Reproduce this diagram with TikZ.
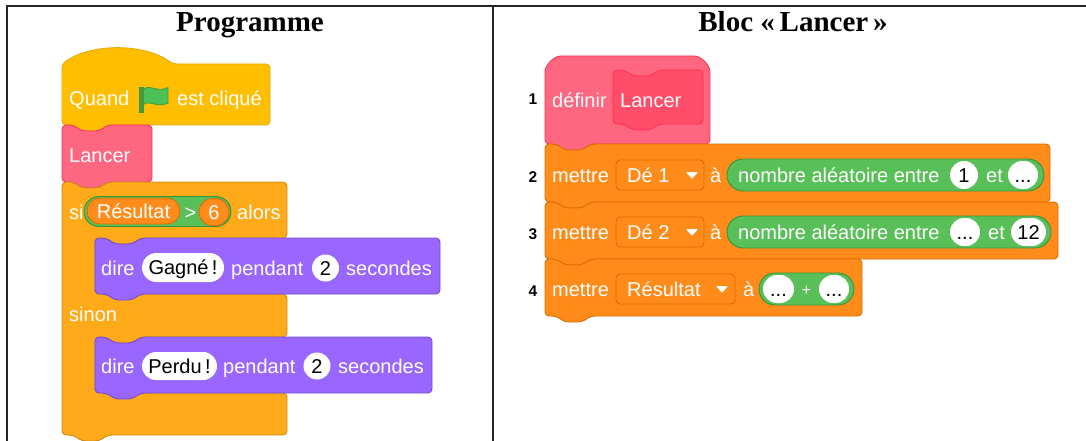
\documentclass[tikz,border=0pt]{standalone}
\usepackage{fontspec}
\newfontfamily\scratchfont{Liberation Sans}
\newfontfamily\scratchbold{Liberation Sans Bold}
\newfontfamily\titlefont{Liberation Serif}
\usetikzlibrary{shapes.misc}
\definecolor{evY}{HTML}{FFBF00}\definecolor{evYb}{HTML}{E6AC00}
\definecolor{myP}{HTML}{FF6680}\definecolor{myPb}{HTML}{FF3355}\definecolor{myPi}{HTML}{FF4D6A}
\definecolor{ctl}{HTML}{FFAB19}\definecolor{ctlb}{HTML}{CF8B17}
\definecolor{lk}{HTML}{9966FF}\definecolor{lkb}{HTML}{774DCB}
\definecolor{op}{HTML}{59C059}\definecolor{opb}{HTML}{389438}
\definecolor{vr}{HTML}{FF8C1A}\definecolor{vrb}{HTML}{DB6E00}
\definecolor{flagG}{HTML}{4CBF56}\definecolor{flagD}{HTML}{45993D}
\newcommand{\scrblock}[5]{\draw[#1] (#2,{(#3+#5)/2}) -- (#2,#3) -- ({#2+11},#3) -- ({#2+20},{#3+6}) -- ({#2+37},{#3+6}) -- ({#2+46},#3) -- (#4,#3) -- (#4,#5) -- ({#2+46},#5) -- ({#2+37},{#5+6}) -- ({#2+20},{#5+6}) -- ({#2+11},#5) -- (#2,#5) -- cycle;}
\tikzset{
  blk/.style={line width=0.9pt, rounded corners=4pt},
  hatst/.style={blk, fill=evY, draw=evYb},
  myst/.style={blk, fill=myP, draw=myPb},
  protost/.style={blk, fill=myPi, draw=myPb},
  ctlst/.style={blk, fill=ctl, draw=ctlb},
  lkst/.style={blk, fill=lk, draw=lkb},
  vrst/.style={blk, fill=vr, draw=vrb},
  lbl/.style={font=\scratchfont\fontsize{20}{24}\selectfont, text=white, inner sep=0pt, anchor=base west},
  num/.style={font=\scratchbold\fontsize{15.5}{18}\selectfont, inner sep=0pt, anchor=base},
  ttl/.style={font=\titlefont\bfseries\fontsize{29}{32}\selectfont, inner sep=0pt, anchor=base},
  pill/.style={rounded rectangle, inner sep=0pt, font=\scratchfont\fontsize{20}{24}\selectfont, text height=14.3pt, text depth=0pt},
  inp/.style={pill, fill=white, text=black, minimum height=28pt},
  rep/.style={pill, fill=vr, draw=vrb, line width=0.9pt, text=white, minimum height=26pt},
  bool/.style={pill, fill=op, draw=opb, line width=0.9pt, minimum height=32pt},
  drop/.style={line width=0.9pt, fill=vr, draw=vrb, rounded corners=4pt},
  tri/.style={fill=white, draw=white, line width=1pt, line join=round},
  grid/.style={line width=1.2pt, draw=black!85}
}
\begin{document}
\begin{tikzpicture}[x=1pt, y=-1pt]
\useasboundingbox (0,0) rectangle (1086,441);
% table
\draw[grid] (7,441) -- (7,6) -- (1086,6);
\draw[grid] (493,6) -- (493,441);
\node[ttl] (t1) at (250,32) {Programme};
\node[ttl] (t2) at (793,32) {Bloc «\,Lancer\,»};

% ===== left: programme =====
\draw[hatst] (62,95) -- (62,64) .. controls (91,43) and (144,43) .. (173,64) -- (270,64) -- (270,125) -- (108,125) -- (99,131) -- (82,131) -- (73,125) -- (62,125) -- cycle;
\node[lbl] (quand) at (69,106) {Quand};
\fill[flagD] (139,87) rectangle (143.5,113);
\draw[fill=flagG, draw=flagD, line width=0.8pt, line join=round] (143.5,89) .. controls (150,84) and (157,93) .. (168,87.5) -- (168,103) .. controls (157,108.5) and (150,99.5) .. (143.5,104.5) -- cycle;
\node[lbl] (clique) at (177,106) {est cliqué};

\scrblock{myst}{62}{125}{152}{182}
\node[lbl] (lancer) at (69,162) {Lancer};

\draw[ctlst] (62,300) -- (62,182) -- (73,182) -- (82,188) -- (99,188) -- (108,182) -- (287,182) -- (287,238) -- (141,238) -- (132,244) -- (115,244) -- (106,238) -- (95,238) -- (95,294) -- (287,294) -- (287,337) -- (141,337) -- (132,343) -- (115,343) -- (106,337) -- (95,337) -- (95,393) -- (287,393) -- (287,435) -- (108,435) -- (99,441) -- (82,441) -- (73,435) -- (62,435) -- cycle;
\node[lbl] (si) at (69,219) {si};
\node[bool, minimum height=30pt, minimum width=147pt] (cond) at (157.5,211.5) {};
\node[rep, minimum width=93pt] (res) at (133.5,211) {Résultat};
\node[lbl, anchor=base] (gt) at (190.5,219) {>};
\node[rep, minimum width=30pt, minimum height=27pt] (six) at (214,212) {6};
\node[lbl] (alors) at (237,219) {alors};

\scrblock{lkst}{95}{238}{440}{294}
\node[lbl] (dire1) at (101,275) {dire};
\node[inp, minimum width=82pt, minimum height=29pt] (gagne) at (183,267.5) {Gagné\,!};
\node[lbl] (pend1) at (231,275) {pendant};
\node[inp, minimum width=27pt, minimum height=27pt] (deux1) at (325.5,268) {2};
\node[lbl] (sec1) at (346,275) {secondes};

\node[lbl] (sinon) at (69,321) {sinon};

\scrblock{lkst}{95}{337}{432}{393}
\node[lbl] (dire2) at (101,373) {dire};
\node[inp, minimum width=75pt] (perdu) at (179.5,366) {Perdu\,!};
\node[lbl] (pend2) at (223,373) {pendant};
\node[inp, minimum width=27pt, minimum height=27pt] (deux2) at (317,366) {2};
\node[lbl] (sec2) at (338,373) {secondes};

% ===== right: bloc Lancer =====
\draw[myst] (545,100) -- (545,76) .. controls (545,65) and (554,56) .. (565,56) -- (690,56) .. controls (701,56) and (710,65) .. (710,76) -- (710,144) -- (591,144) -- (582,150) -- (565,150) -- (556,144) -- (545,144) -- cycle;
\scrblock{protost}{613}{70}{703}{124}
\node[lbl] (definir) at (552,107) {définir};
\node[lbl] (lancer2) at (620,107) {Lancer};
\node[num] (n1) at (533,105) {1};

% line 2
\scrblock{vrst}{545}{144}{1050}{202}
\node[num] (n2) at (533,182) {2};
\node[lbl] (m2) at (552,182) {mettre};
\draw[drop] (616,160) rectangle (704,190);
\node[lbl] (de1) at (627,182) {Dé 1};
\draw[tri] (687,172.5) -- (697,172.5) -- (692,178) -- cycle;
\node[lbl] (a2) at (710,182) {à};
\node[bool, minimum width=317pt] (g2) at (885.5,175) {};
\node[lbl] (nb2) at (738,182) {nombre aléatoire entre};
\node[inp, minimum width=28pt, minimum height=28pt] (i2a) at (964,175) {1};
\node[lbl] (et2) at (986,182) {et};
\node[inp, minimum width=30pt] (i2b) at (1023,175) {...};

% line 3
\scrblock{vrst}{545}{202}{1058}{259}
\node[num] (n3) at (533,239) {3};
\node[lbl] (m3) at (552,239) {mettre};
\draw[drop] (616,217) rectangle (704,247);
\node[lbl] (de2) at (627,239) {Dé 2};
\draw[tri] (687,229.5) -- (697,229.5) -- (692,235) -- cycle;
\node[lbl] (a3) at (710,239) {à};
\node[bool, minimum width=324pt] (g3) at (889,232) {};
\node[lbl] (nb3) at (738,239) {nombre aléatoire entre};
\node[inp, minimum width=30pt] (i3a) at (965,232) {...};
\node[lbl] (et3) at (988,239) {et};
\node[inp, minimum width=35pt] (i3b) at (1028.5,232) {12};

% line 4
\scrblock{vrst}{545}{259}{862}{316}
\node[num] (n4) at (533,296) {4};
\node[lbl] (m4) at (552,296) {mettre};
\draw[drop] (616,274) rectangle (735,304);
\node[lbl] (resv) at (627,296) {Résultat};
\draw[tri] (717,286.5) -- (727,286.5) -- (722,292) -- cycle;
\node[lbl] (a4) at (743,296) {à};
\node[bool, minimum width=95pt] (g4) at (806.5,289) {};
\node[inp, minimum width=31pt] (i4a) at (778.5,289) {...};
\node[lbl, anchor=base, font=\scratchfont\fontsize{16}{20}\selectfont] (plus) at (806.5,295) {+};
\node[inp, minimum width=30pt] (i4b) at (834,289) {...};
\end{tikzpicture}
\end{document}
